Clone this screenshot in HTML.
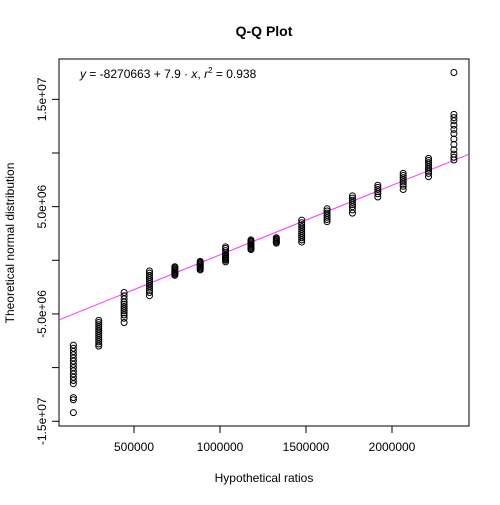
<!DOCTYPE html>
<html><head><meta charset="utf-8"><style>
html,body{margin:0;padding:0;background:#fff;}
svg text{font-family:"Liberation Sans",Arial,sans-serif;fill:#000;}
</style></head><body>
<svg id="chart" width="500" height="500" viewBox="0 0 500 500">
<rect width="500" height="500" fill="#fff"/>
<text x="264" y="36" text-anchor="middle" font-size="14" font-weight="bold">Q-Q Plot</text>
<text x="264" y="482" text-anchor="middle" font-size="12">Hypothetical ratios</text>
<text transform="translate(14,243) rotate(-90)" text-anchor="middle" font-size="12">Theoretical normal distribution</text>
<text x="80" y="78" font-size="12"><tspan font-style="italic">y</tspan> = -8270663 + 7.9 · <tspan font-style="italic">x</tspan>,  <tspan font-style="italic">r</tspan><tspan font-size="8" dy="-5">2</tspan><tspan dy="5"> = 0.938</tspan></text>
<rect x="59" y="59" width="410" height="367" fill="none" stroke="#000" stroke-width="1"/>
<g id="axes"></g>
<g id="marks"></g>
</svg>
<script>
const xTicks = [500000, 1000000, 1500000, 2000000];
const xTickLabels = ["500000", "1000000", "1500000", "2000000"];
const yTicks = [15e6, 10e6, 5e6, 0, -5e6, -10e6, -15e6];
const yTickLabels = ["1.5e+07", "", "5.0e+06", "", "-5.0e+06", "", "-1.5e+07"];
const groupX = [147500, 295000, 442500, 590000, 737500, 885000, 1032500, 1180000, 1327500, 1475000, 1622500, 1770000, 1917500, 2065000, 2212500, 2360000];
const groupValues = [
  [-7.9, -8.2, -8.5, -8.8, -9.1, -9.4, -9.7, -10.0, -10.3, -10.6, -10.9, -11.2, -11.5, -12.8, -13.0, -14.2],
  [-5.6, -5.8, -6.0, -6.2, -6.4, -6.6, -6.8, -7.0, -7.2, -7.4, -7.6, -7.8, -8.0],
  [-3.0, -3.3, -3.6, -3.9, -4.1, -4.3, -4.5, -4.7, -4.9, -5.1, -5.4, -5.8],
  [-1.0, -1.2, -1.4, -1.6, -1.8, -2.0, -2.2, -2.4, -2.6, -2.8, -3.0, -3.3],
  [-0.6, -0.7, -0.8, -0.9, -1.0, -1.1, -1.2, -1.3, -1.4],
  [-0.1, -0.2, -0.3, -0.4, -0.5, -0.6, -0.7, -0.8, -0.9],
  [1.25, 1.1, 0.9, 0.7, 0.5, 0.4, 0.3, 0.2, 0.1, 0.0, -0.15],
  [1.9, 1.8, 1.7, 1.6, 1.5, 1.4, 1.3, 1.2, 1.1, 1.0],
  [2.1, 2.0, 1.9, 1.8, 1.7, 1.6],
  [3.75, 3.5, 3.3, 3.1, 2.9, 2.7, 2.5, 2.3, 2.1, 1.9, 1.7],
  [4.8, 4.6, 4.4, 4.2, 4.0, 3.8, 3.6],
  [6.0, 5.8, 5.6, 5.4, 5.2, 5.0, 4.7, 4.4],
  [7.0, 6.8, 6.6, 6.4, 6.2, 5.9],
  [8.1, 7.9, 7.7, 7.5, 7.3, 7.1, 6.9, 6.6],
  [9.5, 9.3, 9.1, 8.9, 8.7, 8.5, 8.3, 8.1, 7.8],
  [17.5, 13.6, 13.3, 13.0, 12.6, 12.2, 11.8, 11.3, 10.8, 10.3, 9.9, 9.6, 9.35]
];
const fitIntercept = -5.97e6;
const fitSlope = 6.48;

const NS = "http://www.w3.org/2000/svg";
function xs(v){ return 134 + (v - 500000) * 86 / 500000; }
function ys(v){ return 260.3 - v * 10.73 / 1e6; }
const axes = document.getElementById('axes');
const marks = document.getElementById('marks');
function el(tag, attrs, parent){ const e = document.createElementNS(NS, tag); for (const k in attrs) e.setAttribute(k, attrs[k]); parent.appendChild(e); return e; }

xTicks.forEach((t, i) => {
  const x = xs(t);
  const tk = el('line', {x1:x, x2:x, y1:426, y2:433, stroke:'#000'}, axes);
  
  
  const tx = el('text', {x:x, y:451, 'text-anchor':'middle', 'font-size':12}, axes);
  tx.textContent = xTickLabels[i];
  
  
});
yTicks.forEach((t, i) => {
  const y = ys(t);
  const tk = el('line', {x1:52, x2:59, y1:y, y2:y, stroke:'#000'}, axes);
  
  
  if (yTickLabels[i]) {
    const tx = el('text', {'text-anchor':'middle', 'font-size':12, transform:'translate(46,'+y+') rotate(-90)'}, axes);
    tx.textContent = yTickLabels[i];
    
    
  }
});

const xMin = 500000 - 75 * 500000 / 86, xMax = 500000 + 335 * 500000 / 86;
const fl = el('line', {x1:xs(xMin), y1:ys(fitIntercept + fitSlope * xMin), x2:xs(xMax), y2:ys(fitIntercept + fitSlope * xMax), stroke:'#ff33ff', 'stroke-width':1}, marks);



groupX.forEach((gx, gi) => {
  groupValues[gi].forEach(v => {
    const c = el('circle', {cx:xs(gx), cy:ys(v * 1e6), r:3, fill:'none', stroke:'#000', 'stroke-width':1}, marks);
    
    
  });
});
</script>
</body></html>
